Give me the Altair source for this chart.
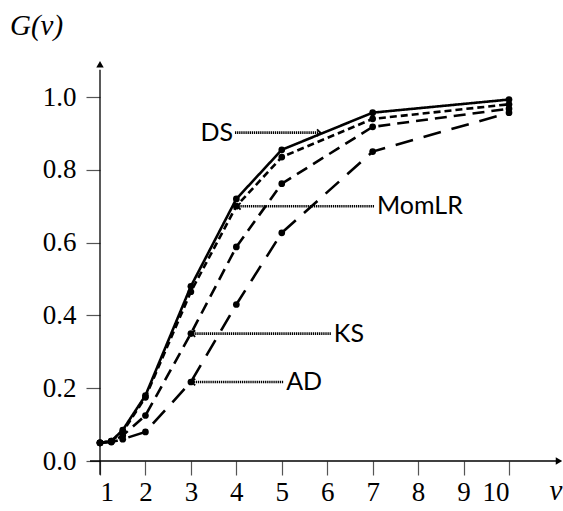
import altair as alt
import pandas as pd

# Sample points along v and the fitted G(v) for each estimator
v_values = [1, 1.25, 1.5, 2, 3, 4, 5, 7, 10]
series_names = ["DS", "MomLR", "KS", "AD"]
g_ds = [0.05, 0.055, 0.085, 0.18, 0.48, 0.72, 0.855, 0.957, 0.993]
g_momlr = [0.05, 0.055, 0.08, 0.175, 0.465, 0.70, 0.835, 0.94, 0.98]
g_ks = [0.05, 0.053, 0.07, 0.125, 0.35, 0.588, 0.762, 0.918, 0.968]
g_ad = [0.05, 0.052, 0.06, 0.08, 0.217, 0.43, 0.627, 0.85, 0.957]

# Annotation arrows: label, tail point, tip point
ann_labels = ["DS", "MomLR", "KS", "AD"]
ann_tail_v = [3.97, 7.03, 6.08, 5.03]
ann_tip_v = [5.85, 4.02, 3.02, 3.02]
ann_g = [0.902, 0.700, 0.350, 0.217]

x_ticks = [1, 2, 3, 4, 5, 6, 7, 8, 9, 10]
y_ticks = [0.0, 0.2, 0.4, 0.6, 0.8, 1.0]

rows = []
for name, vals in zip(series_names, [g_ds, g_momlr, g_ks, g_ad]):
    for v, g in zip(v_values, vals):
        rows.append({"v": v, "G": g, "series": name})
df = pd.DataFrame(rows)

ann = pd.DataFrame({
    "label": ann_labels,
    "tail": ann_tail_v,
    "tip": ann_tip_v,
    "G": ann_g,
})

serif = "'Liberation Serif', 'Times New Roman', 'DejaVu Serif', serif"
sans = "Lato, 'Open Sans', sans-serif"

xs = alt.Scale(domain=[1, 10], nice=False, zero=False)
ys = alt.Scale(domain=[0, 1], nice=False, zero=False)

x_axis = alt.Axis(values=x_ticks, format="d", domain=False, grid=False,
                  tickSize=14, tickColor="#555", tickWidth=1.2,
                  labelFont=serif, labelFontSize=27, labelColor="black",
                  labelFontWeight="normal", labelPadding=4, title=None)
y_axis = alt.Axis(values=y_ticks, format=".1f", domain=False, grid=False,
                  tickSize=14, tickColor="#555", tickWidth=1.2,
                  labelFont=serif, labelFontSize=27, labelColor="black",
                  labelFontWeight="normal", labelPadding=10, title=None)

base = alt.Chart(df)

dash_scale = alt.Scale(domain=series_names,
                       range=[[1, 0], [7, 4], [12, 7], [18, 11]])

lines = base.mark_line(color="black", strokeWidth=2.6, clip=False).encode(
    x=alt.X("v:Q", scale=xs, axis=x_axis),
    y=alt.Y("G:Q", scale=ys, axis=y_axis),
    strokeDash=alt.StrokeDash("series:N", scale=dash_scale, legend=None),
    detail="series:N",
)

points = base.mark_circle(color="black", size=45, opacity=1).encode(
    x=alt.X("v:Q", scale=xs),
    y=alt.Y("G:Q", scale=ys),
)

# Axis lines with arrowheads
axis_df = pd.DataFrame({"x0": [0.78, 1.0], "x1": [11.05, 1.0],
                        "y0": [0.0, -0.038], "y1": [0.0, 1.075]})
axis_lines = alt.Chart(axis_df).mark_rule(color="black", strokeWidth=1.3).encode(
    x=alt.X("x0:Q", scale=xs), x2="x1:Q",
    y=alt.Y("y0:Q", scale=ys), y2="y1:Q",
)
head_df = pd.DataFrame({"x": [11.1, 1.0], "y": [0.0, 1.09],
                        "shape": ["triangle-right", "triangle-up"]})
axis_heads = alt.Chart(head_df).mark_point(filled=True, color="black", size=55,
                                           opacity=1).encode(
    x=alt.X("x:Q", scale=xs), y=alt.Y("y:Q", scale=ys),
    shape=alt.Shape("shape:N", scale=None),
)

# Dotted annotation arrows
ann_rules = alt.Chart(ann).mark_rule(color="black", strokeWidth=2.6,
                                     strokeDash=[1.3, 0.8]).encode(
    x=alt.X("tail:Q", scale=xs), x2="tip:Q",
    y=alt.Y("G:Q", scale=ys),
)
ann_right = ann[ann["label"] == "DS"]
ann_left = ann[ann["label"] != "DS"]
head_right = alt.Chart(ann_right).mark_point(
    shape="M-1,-1L0,0L-1,1", filled=False, color="black", strokeWidth=1.8,
    size=45, opacity=1).encode(x=alt.X("tip:Q", scale=xs), y=alt.Y("G:Q", scale=ys))
head_left = alt.Chart(ann_left).mark_point(
    shape="M1,-1L0,0L1,1", filled=False, color="black", strokeWidth=1.8,
    size=45, opacity=1).encode(x=alt.X("tip:Q", scale=xs), y=alt.Y("G:Q", scale=ys))

text_right = alt.Chart(ann_right).mark_text(
    align="right", baseline="middle", font=sans, fontSize=25, dx=-2,
    color="black").encode(x=alt.X("tail:Q", scale=xs), y=alt.Y("G:Q", scale=ys),
                          text="label:N")
text_left = alt.Chart(ann_left).mark_text(
    align="left", baseline="middle", font=sans, fontSize=25, dx=3,
    color="black").encode(x=alt.X("tail:Q", scale=xs), y=alt.Y("G:Q", scale=ys),
                          text="label:N")

# Axis titles
g_title = alt.Chart(pd.DataFrame({"t": ["G(v)"]})).mark_text(
    align="left", baseline="alphabetic", font=serif, fontSize=29,
    fontStyle="italic", color="black").encode(
    x=alt.value(-90), y=alt.value(-62), text="t:N")
v_title = alt.Chart(pd.DataFrame({"t": ["v"]})).mark_text(
    align="center", baseline="middle", font=serif, fontSize=29,
    fontStyle="italic", color="black").encode(
    x=alt.value(456), y=alt.value(394), text="t:N")

chart = alt.layer(
    axis_lines, axis_heads, lines, points, ann_rules, head_right, head_left,
    text_right, text_left, g_title, v_title,
).properties(
    width=409, height=364,
    background="white",
    autosize=alt.AutoSizeParams(type="none"),
    padding={"left": 100, "top": 97, "right": 54, "bottom": 50},
).configure_view(strokeWidth=0)

chart.save("out.html", embed_options={"renderer": "svg", "actions": False})
